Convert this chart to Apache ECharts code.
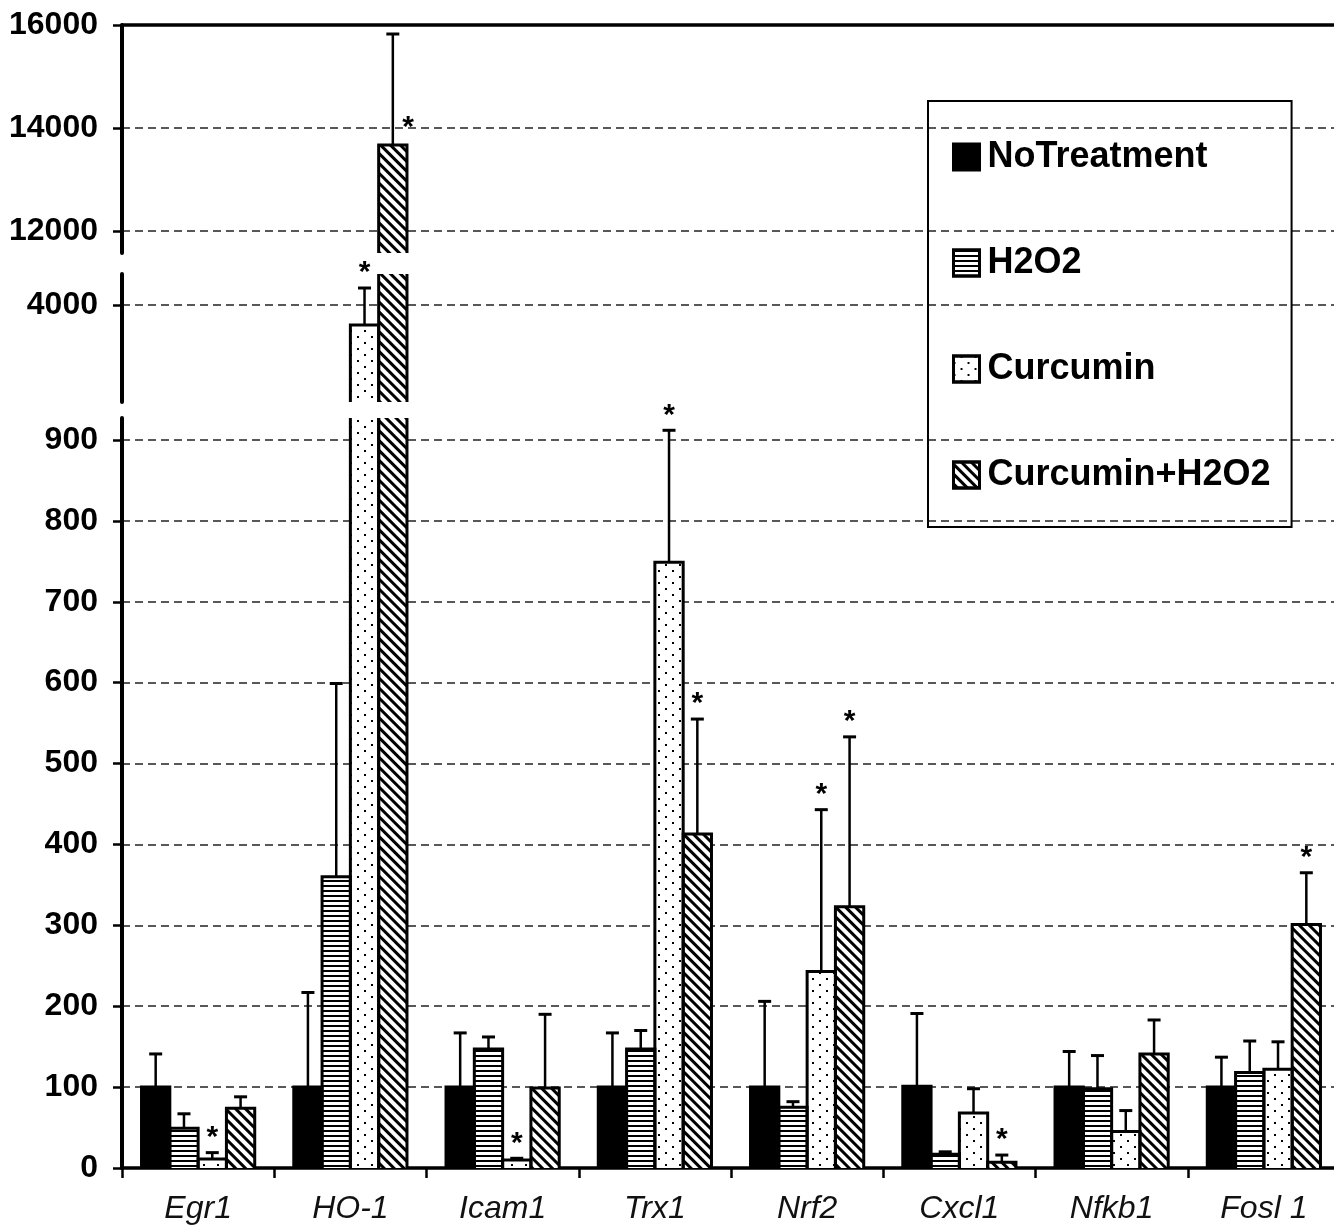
<!DOCTYPE html>
<html><head><meta charset="utf-8">
<script src="https://cdn.jsdelivr.net/npm/echarts@6/dist/echarts.min.js"></script>
<style>html,body{margin:0;padding:0;background:#fff}#c{width:1334px;height:1226px}</style>
</head><body><div id="c"></div>
<script>
// ---------------- data ----------------
const categories = ['Egr1', 'HO-1', 'Icam1', 'Trx1', 'Nrf2', 'Cxcl1', 'Nfkb1', 'Fosl 1'];
const seriesNames = ['NoTreatment', 'H2O2', 'Curcumin', 'Curcumin+H2O2'];
// bar heights
const noTreatment   = [100, 100, 100, 100, 100, 101, 100, 100];
const h2o2          = [49, 360, 147, 147, 75, 17, 98, 118];
const curcumin      = [11, 3612, 10, 749, 243, 68, 45, 122];
const curcuminH2o2  = [74, 13670, 99, 413, 323, 7, 141, 301];
// upper end of each error bar
const noTreatmentErrTop  = [141, 217, 167, 167, 206, 191, 144, 137];
const h2o2ErrTop         = [67, 599, 162, 170, 82, 20, 139, 157];
const curcuminErrTop     = [19, 4330, 12, 912, 443, 98, 71, 156];
const curcuminH2o2ErrTop = [88, 15825, 190, 555, 533, 16, 183, 365];
// significance marks (*)
const noTreatmentSig  = [0, 0, 0, 0, 0, 0, 0, 0];
const h2o2Sig         = [0, 0, 0, 0, 0, 0, 0, 0];
const curcuminSig     = [1, 1, 1, 1, 1, 0, 0, 0];
const curcuminH2o2Sig = [0, 1, 0, 1, 1, 1, 0, 1];
// y tick labels of the three axis segments (broken axis)
const yTicksLow  = [0, 100, 200, 300, 400, 500, 600, 700, 800, 900];
const yTicksMid  = [4000];
const yTicksHigh = [12000, 14000, 16000];

// ---------------- styling / layout ----------------
const values  = [noTreatment, h2o2, curcumin, curcuminH2o2];
const errTops = [noTreatmentErrTop, h2o2ErrTop, curcuminErrTop, curcuminH2o2ErrTop];
const sigs    = [noTreatmentSig, h2o2Sig, curcuminSig, curcuminH2o2Sig];
const BW = 28.3;
const FONT = '"Liberation Sans", Arial, sans-serif';

const decals = [
  null,
  {symbol: 'rect', symbolSize: 1, dashArrayX: [1, 0], dashArrayY: [2, 3], color: '#000', rotation: 0},
  {symbol: 'rect', symbolSize: 1, dashArrayX: [[2, 12], [0, 7, 2, 5]], dashArrayY: [2, 4], color: '#000', rotation: 0},
  {symbol: 'rect', symbolSize: 1, dashArrayX: [1, 0], dashArrayY: [3, 4], color: '#000', rotation: Math.PI / 4}
];
const fills = ['#000', '#fff', '#fff', '#fff'];

const segs = [
  {top: 418, height: 750, min: 0, max: 927.2, ticks: yTicksLow},
  {top: 274, height: 128, min: 2117, max: 4602, ticks: yTicksMid},
  {top: 25, height: 228, min: 11573, max: 16000, ticks: yTicksHigh}
];

const grid = [], xAxis = [], yAxis = [], series = [];
segs.forEach((s, g) => {
  grid.push({left: 122, width: 1218, top: s.top, height: s.height, containLabel: false, outerBoundsMode: 'none'});
  if (g === 0) {
    xAxis.push({gridIndex: g, type: 'category', data: categories,
      axisLine: {show: true, onZero: false, lineStyle: {color: '#000', width: 3.5}},
      axisTick: {show: true, length: 10, lineStyle: {color: '#000', width: 2.5}},
      axisLabel: {fontSize: 32, fontStyle: 'italic', fontFamily: FONT, color: '#111', margin: 25},
      splitLine: {show: false}});
  } else if (g === 1) {
    xAxis.push({gridIndex: g, type: 'category', data: categories, show: false});
  } else {
    xAxis.push({gridIndex: g, type: 'category', data: categories, position: 'top',
      axisLine: {show: true, onZero: false, lineStyle: {color: '#000', width: 3.5}},
      axisTick: {show: false}, axisLabel: {show: false}, splitLine: {show: false}});
  }
  yAxis.push({gridIndex: g, type: 'value', min: s.min, max: s.max,
    axisLine: {show: true, onZero: false, lineStyle: {color: '#000', width: 4}},
    axisTick: {show: true, length: 9, customValues: s.ticks, lineStyle: {color: '#000', width: 2.5}},
    axisLabel: {customValues: s.ticks, formatter: v => String(v), fontSize: 32, fontWeight: 'bold',
      fontFamily: FONT, color: '#000', margin: 24},
    splitLine: {show: true, lineStyle: {type: [8, 5], color: '#222', width: 1.5}}});

  seriesNames.forEach((name, k) => {
    const st = {color: fills[k], borderWidth: 0};
    if (decals[k]) st.decal = decals[k];
    series.push({type: 'bar', name: name, xAxisIndex: g, yAxisIndex: g, data: values[k],
      barWidth: BW, barGap: '0%', itemStyle: st, silent: true, animation: false, z: 2});
  });

  const outlineData = [];
  const starData = [];
  for (let k = 0; k < 4; k++) {
    for (let i = 0; i < categories.length; i++) {
      outlineData.push([i, k, values[k][i], errTops[k][i]]);
      if (sigs[k][i] && errTops[k][i] >= s.min && errTops[k][i] <= s.max) {
        starData.push([i, k, values[k][i], errTops[k][i]]);
      }
    }
  }
  series.push({type: 'custom', xAxisIndex: g, yAxisIndex: g, clip: true, silent: true, animation: false, z: 5,
    data: outlineData,
    renderItem: function (params, api) {
      const i = api.value(0), k = api.value(1), v = api.value(2), e = api.value(3);
      const base = api.coord([i, 0]);
      const cx = base[0] + (k - 1.5) * BW;
      const x0 = cx - BW / 2, x1 = cx + BW / 2;
      const yB = base[1];
      const yT = api.coord([i, v])[1];
      const yE = api.coord([i, e])[1];
      return {type: 'group', children: [
        {type: 'polyline', shape: {points: [[x0, yB], [x0, yT], [x1, yT], [x1, yB]]},
          style: {stroke: '#000', lineWidth: 3, fill: 'none'}},
        {type: 'line', shape: {x1: cx, y1: yT, x2: cx, y2: yE}, style: {stroke: '#000', lineWidth: 2.5}},
        {type: 'line', shape: {x1: cx - 6.5, y1: yE, x2: cx + 6.5, y2: yE}, style: {stroke: '#000', lineWidth: 3}}
      ]};
    }
  });
  series.push({type: 'custom', xAxisIndex: g, yAxisIndex: g, clip: false, silent: true, animation: false, z: 6,
    data: starData,
    renderItem: function (params, api) {
      const i = api.value(0), k = api.value(1), v = api.value(2), e = api.value(3);
      const base = api.coord([i, 0]);
      const cx = base[0] + (k - 1.5) * BW;
      const yT = api.coord([i, v])[1];
      const yE = api.coord([i, e])[1];
      let x = cx, y = yE - 21;
      // no room above the error bar (it reaches the top frame): put the mark beside the bar
      if (yE < 60) { x = cx + BW / 2 + 1; y = yT - 23; }
      return {type: 'text', x: x, y: y + 6,
        style: {text: '*', font: 'bold 30px ' + FONT, fill: '#000', align: 'center', verticalAlign: 'middle'}};
    }
  });
});

const option = {
  backgroundColor: '#fff',
  animation: false,
  legend: {
    data: seriesNames, orient: 'vertical', left: 928, top: 101,
    padding: [38, 21, 34, 24], itemGap: 70, itemWidth: 26, itemHeight: 26,
    icon: 'rect', selectedMode: false,
    borderColor: '#000', borderWidth: 2, borderRadius: 0, backgroundColor: 'transparent',
    itemStyle: {borderColor: '#000', borderWidth: 3},
    textStyle: {fontSize: 36, fontWeight: 'bold', fontFamily: FONT, color: '#000', padding: [0, 0, 0, 3]}
  },
  grid: grid, xAxis: xAxis, yAxis: yAxis, series: series
};
const chart = echarts.init(document.getElementById('c'), null, {renderer: 'canvas'});
chart.setOption(option);
</script>
</body></html>
